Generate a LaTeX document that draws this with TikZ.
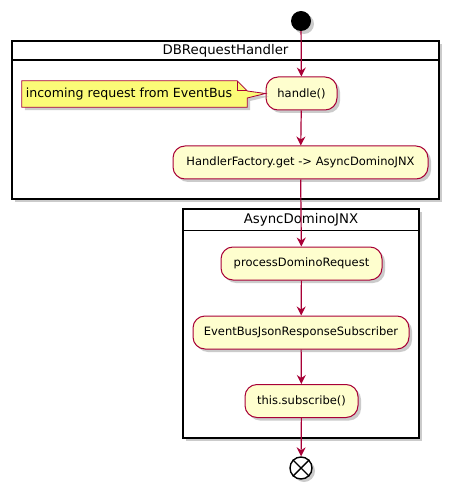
\documentclass[tikz,border=0pt]{standalone}
\usepackage{fontspec}
\setmainfont{DejaVu Sans}
\usetikzlibrary{arrows.meta, shadows}
\definecolor{umlred}{HTML}{A80036}
\definecolor{actfill}{HTML}{FEFECE}
\definecolor{notefill}{HTML}{FBFB77}

\begin{document}
\begin{tikzpicture}[x=1pt,y=-1pt,
  shade/.style={drop shadow={shadow xshift=3pt,shadow yshift=-3pt,fill=black!45,opacity=.45}},
  act/.style={draw=umlred,fill=actfill,line width=1pt,rounded corners=12pt,
    minimum height=33pt,inner sep=0pt,font=\fontsize{11.5}{13}\selectfont,shade},
  lane/.style={draw=black,line width=1.5pt,fill=white,inner sep=0pt,shade},
  lanetitle/.style={font=\fontsize{13.3}{15}\selectfont},
  flow/.style={draw=umlred,line width=1.2pt,-{Stealth[length=9pt,width=9pt,inset=3pt]}}]
  \useasboundingbox (0,0) rectangle (455,494);

  % swimlane boxes
  \node[lane,minimum width=427pt,minimum height=158pt] (dbLane) at (225.5,120) {};
  \draw[line width=1.5pt] ([yshift=-20pt]dbLane.north west) -- ([yshift=-20pt]dbLane.north east);
  \node[lanetitle] (dbTitle) at (225.5,51) {DBRequestHandler};

  \node[lane,minimum width=236pt,minimum height=229pt] (asyncLane) at (301,323.5) {};
  \draw[line width=1.5pt] ([yshift=-22pt]asyncLane.north west) -- ([yshift=-22pt]asyncLane.north east);
  \node[lanetitle] (asyncTitle) at (301,220) {AsyncDominoJNX};

  % start and stop
  \node[circle,fill=black,minimum size=20pt,inner sep=0pt,shade] (start) at (301,21) {};
  \node[circle,draw=black,fill=white,line width=1.4pt,minimum size=22pt,inner sep=0pt,shade] (stop) at (301,468) {};
  \draw[line width=1.4pt] (stop.north east) -- (stop.south west)
    (stop.north west) -- (stop.south east);

  % activities
  \node[act,minimum width=71pt] (handle) at (301.5,93.5) {handle()};
  \node[act,minimum width=255pt] (factory) at (300.5,162.5) {HandlerFactory.get -> AsyncDominoJNX};
  \node[act,minimum width=161pt] (process) at (301.5,263.5) {processDominoRequest};
  \node[act,minimum width=216pt] (subscriber) at (301,332.5) {EventBusJsonResponseSubscriber};
  \node[act,minimum width=113pt] (subscribe) at (301.5,401) {this.subscribe()};

  % note
  \node[minimum width=225pt,minimum height=26pt,inner sep=0pt] (note) at (134.5,94) {};
  \filldraw[draw=umlred,fill=notefill,line width=.8pt,shade]
    (note.north west) -- ([xshift=-10pt]note.north east) -- ([yshift=-10pt]note.north east)
    -- ([yshift=3pt]note.east) -- (handle.west) -- ([yshift=-4pt]note.east)
    -- (note.south east) -- (note.south west) -- cycle;
  \draw[umlred,line width=.8pt] ([xshift=-10pt]note.north east) -- ([xshift=-10pt,yshift=-10pt]note.north east)
    -- ([yshift=-10pt]note.north east);
  \node[font=\fontsize{12.6}{14}\selectfont] (noteText) at (129,94) {incoming request from EventBus};

  % flow
  \draw[flow] (start) -- (handle);
  \draw[flow] (handle) -- (factory);
  \draw[flow] (factory) -- (process);
  \draw[flow] (process) -- (subscriber);
  \draw[flow] (subscriber) -- (subscribe);
  \draw[flow] (subscribe) -- (stop);
\end{tikzpicture}
\end{document}
